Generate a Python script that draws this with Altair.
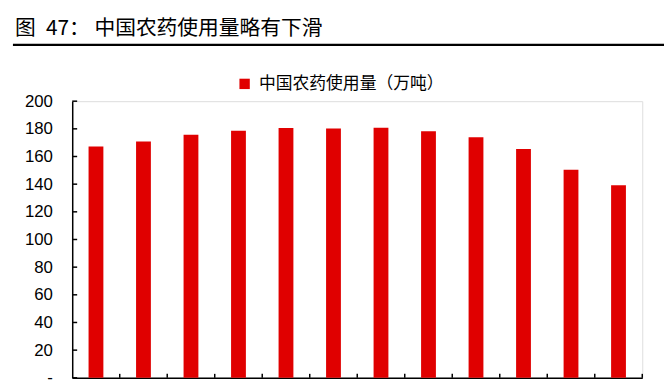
import altair as alt
import pandas as pd

years = [2008, 2009, 2010, 2011, 2012, 2013, 2014, 2015, 2016, 2017, 2018, 2019]
usage = [167.2, 170.9, 175.8, 178.7, 180.6, 180.2, 180.7, 178.3, 174.0, 165.5, 150.4, 139.2]
series_name = "中国农药使用量（万吨）"
title_text = "图\u200247： 中国农药使用量略有下滑"
y_ticks = [0, 20, 40, 60, 80, 100, 120, 140, 160, 180, 200]

df = pd.DataFrame({"year": [str(y) for y in years], "value": usage, "series": series_name})
tick_df = pd.DataFrame({"v": y_ticks})
title_df = pd.DataFrame({"t": [title_text]})

W, H = 577, 280
RED = "#E00000"
LABEL_FONT = "Liberation Sans"
CJK_FONT = "Noto Sans CJK SC"

x_scale = alt.Scale(paddingInner=0, paddingOuter=0)
y_scale = alt.Scale(domain=[0, 200], nice=False)

x_axis = alt.Axis(title=None, labels=False, ticks=False, domain=True,
                  domainColor="black", domainWidth=1.5)
y_axis = alt.Axis(title=None, values=y_ticks, ticks=False, domain=True,
                  domainColor="black", domainWidth=1.5, grid=False,
                  labelFont=LABEL_FONT, labelFontSize=17, labelColor="black",
                  labelPadding=20, labelOverlap=False, labelFlush=False,
                  labelExpr="datum.value == 0 ? '-' : datum.label")

bars = alt.Chart(df).mark_bar(width=15).encode(
    x=alt.X("year:O", scale=x_scale, sort=None, axis=x_axis),
    y=alt.Y("value:Q", scale=y_scale, axis=y_axis),
    color=alt.Color("series:N", scale=alt.Scale(range=[RED]),
                    legend=alt.Legend(orient="none", legendX=166, legendY=-26, title=None,
                                      symbolType="square", symbolSize=110,
                                      symbolStrokeWidth=0, labelFont=CJK_FONT,
                                      labelFontSize=17, labelColor="black",
                                      labelOffset=6, labelLimit=400)),
)

x_ticks = alt.Chart(df).mark_rule(color="black", strokeWidth=1.5).encode(
    x=alt.X("year:O", scale=x_scale, sort=None, bandPosition=1, axis=x_axis),
    y=alt.value(H),
    y2=alt.value(H - 4),
)

y_tick_marks = alt.Chart(tick_df).mark_rule(color="black", strokeWidth=1.5).encode(
    y=alt.Y("v:Q", scale=y_scale, axis=y_axis),
    x=alt.value(0),
    x2=alt.value(5),
)

title = alt.Chart(title_df).mark_text(
    align="left", baseline="alphabetic", fontSize=21, font=CJK_FONT, color="black",
    x=-58, y=-67,
).encode(text="t:N")

underline = alt.Chart(title_df).mark_rule(color="black", strokeWidth=2.5).encode(
    x=alt.value(-60), x2=alt.value(610), y=alt.value(-57),
)

chart = alt.layer(bars, x_ticks, y_tick_marks, title, underline).properties(
    width=W, height=H,
    autosize=alt.AutoSizeParams(type="none"),
    padding={"left": 65, "top": 92, "right": 22, "bottom": 7},
).configure_view(stroke=None).configure(background="white")

chart.save("out.html", embed_options={"renderer": "svg", "actions": False})
